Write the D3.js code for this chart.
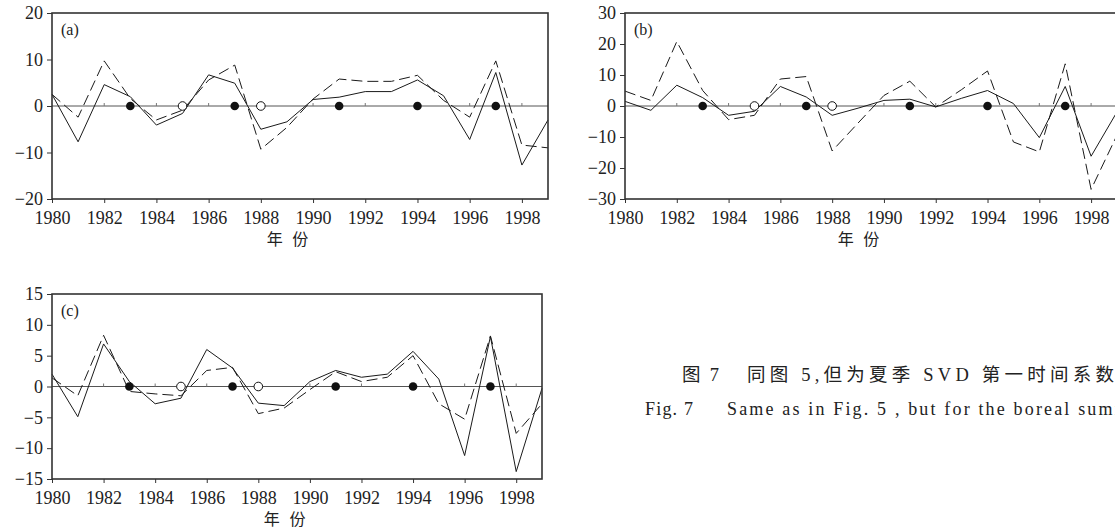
<!DOCTYPE html>
<html>
<head>
<meta charset="utf-8">
<script src="https://cdn.jsdelivr.net/npm/d3@7"></script>
<style>
  body { margin: 0; background: #fff; overflow: hidden; }
  svg { display: block; }
</style>
</head>
<body>
<div id="chart"></div>
<script>
// years and marker years
var years = [1980, 1981, 1982, 1983, 1984, 1985, 1986, 1987, 1988, 1989,
             1990, 1991, 1992, 1993, 1994, 1995, 1996, 1997, 1998, 1999]
var xTickYears = [1980, 1982, 1984, 1986, 1988, 1990, 1992, 1994, 1996, 1998]
var filledYears = [1983, 1987, 1991, 1994, 1997]
var openYears = [1985, 1988]

// panel (a)
var aSolid  = [2.5, -7.7, 4.6, 2.0, -4.1, -1.6, 6.7, 4.9, -5.0, -3.4,
               1.4, 1.9, 3.1, 3.1, 5.6, 2.2, -7.2, 7.2, -12.7, -3.0]
var aDashed = [2.5, -2.4, 9.7, 1.6, -3.0, -0.9, 5.6, 8.8, -9.3, -4.6,
               1.5, 5.8, 5.3, 5.3, 6.6, 1.2, -2.4, 9.7, -8.4, -9.0]
var aTicks = [-20, -10, 0, 10, 20]

// panel (b)
var bSolid  = [1.5, -1.4, 6.7, 2.7, -3.0, -1.7, 6.3, 2.9, -3.0, -0.7,
               1.8, 2.2, -0.3, 2.5, 5.0, 0.8, -10.2, 6.3, -16.2, -1.9]
var bDashed = [4.8, 1.8, 20.8, 5.0, -4.4, -3.0, 8.7, 9.5, -14.5, -5.5,
               3.4, 8.0, -0.3, 5.3, 11.3, -11.6, -14.8, 13.6, -26.9, -9.4]
var bTicks = [-30, -20, -10, 0, 10, 20, 30]

// panel (c)
var cSolid  = [2.0, -4.9, 6.9, 0.8, -2.8, -1.9, 6.0, 3.0, -2.7, -3.1,
               0.8, 2.6, 1.5, 2.0, 5.7, 1.2, -11.2, 8.1, -13.8, -0.3]
var cDashed = [1.4, -1.5, 8.3, -0.8, -1.2, -1.5, 2.6, 3.1, -4.4, -3.5,
               -0.5, 2.4, 0.8, 1.5, 5.0, -2.8, -5.3, 8.2, -7.6, -2.8]
var cTicks = [-15, -10, -5, 0, 5, 10, 15]

var panels = [
  {label: "(a)", solid: aSolid, dashed: aDashed, ticks: aTicks, left: 52, right: 548, top: 13, bottom: 199},
  {label: "(b)", solid: bSolid, dashed: bDashed, ticks: bTicks, left: 625, right: 1117, top: 13, bottom: 199},
  {label: "(c)", solid: cSolid, dashed: cDashed, ticks: cTicks, left: 52, right: 542, top: 294, bottom: 479}
]

var serif = "'Liberation Serif', 'Times New Roman', Times, 'DejaVu Serif', serif"
var cjk = "'Liberation Serif', 'Times New Roman', 'Noto Sans CJK SC', serif"

var svg = d3.select("#chart")
  .append("svg")
  .attr("width", 1115)
  .attr("height", 530)

panels.forEach(function(p) {
  var x = d3.scaleLinear().domain([1980, 1999]).range([p.left, p.right])
  var y = d3.scaleLinear()
    .domain([p.ticks[0], p.ticks[p.ticks.length - 1]])
    .range([p.bottom, p.top])

  var g = svg.append("g")

  // zero line with small year ticks
  g.append("line")
    .attr("x1", p.left).attr("x2", p.right)
    .attr("y1", y(0)).attr("y2", y(0))
    .attr("stroke", "#555").attr("stroke-width", 1)
  g.selectAll(".zt")
    .data(xTickYears.slice(1))
    .enter().append("line")
    .attr("x1", function(d) { return x(d) }).attr("x2", function(d) { return x(d) })
    .attr("y1", y(0)).attr("y2", y(0) - 3)
    .attr("stroke", "#777").attr("stroke-width", 1)

  var line = d3.line()
    .x(function(d, i) { return x(years[i]) })
    .y(function(d) { return y(d) })

  g.append("path")
    .datum(p.dashed)
    .attr("d", line)
    .attr("fill", "none")
    .attr("stroke", "#1a1a1a")
    .attr("stroke-width", 1)
    .attr("stroke-dasharray", "11,5")

  g.append("path")
    .datum(p.solid)
    .attr("d", line)
    .attr("fill", "none")
    .attr("stroke", "#1a1a1a")
    .attr("stroke-width", 1)

  g.selectAll(".filled")
    .data(filledYears)
    .enter().append("circle")
    .attr("cx", function(d) { return x(d) })
    .attr("cy", y(0))
    .attr("r", 4.3)
    .attr("fill", "#111")

  g.selectAll(".open")
    .data(openYears)
    .enter().append("circle")
    .attr("cx", function(d) { return x(d) })
    .attr("cy", y(0))
    .attr("r", 4.3)
    .attr("fill", "#fff")
    .attr("stroke", "#111")
    .attr("stroke-width", 1)

  // axes
  var xAxis = d3.axisBottom(x).tickValues(xTickYears).tickFormat(d3.format("d"))
    .tickSize(4).tickPadding(8)
  var yAxis = d3.axisLeft(y).tickValues(p.ticks).tickSize(5).tickPadding(4)

  var xg = g.append("g")
    .attr("transform", "translate(0," + p.bottom + ")")
    .call(xAxis)
  var yg = g.append("g")
    .attr("transform", "translate(" + p.left + ",0)")
    .call(yAxis)

  ;[xg, yg].forEach(function(ag) {
    ag.attr("font-family", serif).attr("font-size", 18)
    ag.select(".domain").remove()
    ag.selectAll("line").attr("stroke", "#333")
    ag.selectAll("text")
      .style("font-family", serif)
      .style("font-size", "18px")
      .attr("fill", "#222")
  })

  // frame
  g.append("rect")
    .attr("x", p.left).attr("y", p.top)
    .attr("width", p.right - p.left).attr("height", p.bottom - p.top)
    .attr("fill", "none")
    .attr("stroke", "#333")
    .attr("stroke-width", 1.6)

  g.append("text")
    .attr("x", p.left + 9).attr("y", p.top + 22)
    .style("font-family", serif)
    .style("font-size", "16px")
    .attr("fill", "#222")
    .text(p.label)

  g.append("text")
    .attr("x", x(1989) + 2).attr("y", p.bottom + 46)
    .attr("text-anchor", "middle")
    .style("font-family", "'Noto Sans CJK SC', sans-serif")
    .style("font-size", "16px")
    .attr("letter-spacing", 3)
    .attr("fill", "#222")
    .text("年 份")
})

// caption, line 1
svg.append("text")
  .attr("x", 682).attr("y", 381)
  .style("font-family", cjk)
  .style("font-size", "18.5px")
  .attr("fill", "#222")
  .attr("textLength", 37)
  .attr("lengthAdjust", "spacing")
  .text("图 7")
svg.append("text")
  .attr("x", 747).attr("y", 381)
  .style("font-family", cjk)
  .style("font-size", "18.5px")
  .attr("fill", "#222")
  .attr("textLength", 367)
  .attr("lengthAdjust", "spacing")
  .text("同图 5,但为夏季 SVD 第一时间系数")

// caption, line 2
svg.append("text")
  .attr("x", 645).attr("y", 415)
  .style("font-family", serif)
  .style("font-size", "18px")
  .attr("fill", "#222")
  .attr("textLength", 48)
  .attr("lengthAdjust", "spacing")
  .text("Fig. 7")
svg.append("text")
  .attr("x", 727).attr("y", 415)
  .style("font-family", serif)
  .style("font-size", "18px")
  .attr("fill", "#222")
  .attr("textLength", 420)
  .attr("lengthAdjust", "spacing")
  .text("Same as in Fig. 5 , but for the boreal summer")
</script>
</body>
</html>
